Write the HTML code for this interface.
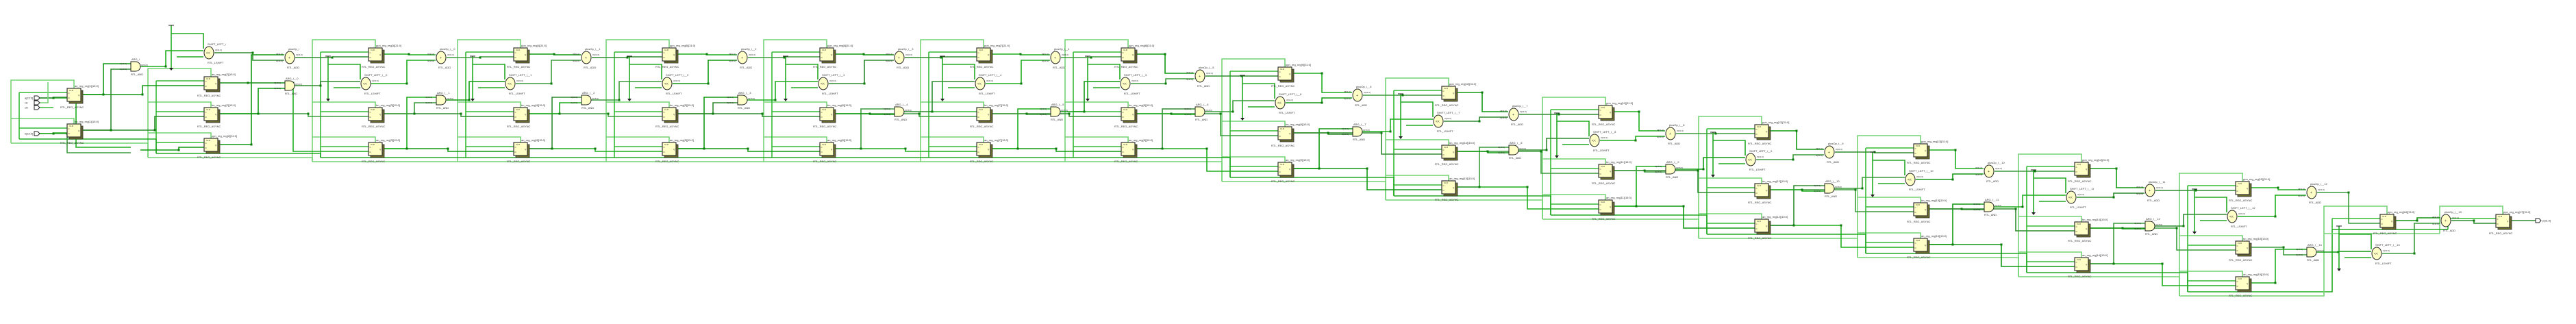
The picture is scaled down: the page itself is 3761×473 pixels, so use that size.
<!DOCTYPE html>
<html><head><meta charset="utf-8">
<style>
html,body{margin:0;padding:0;background:#fff;width:3761px;height:473px;overflow:hidden}
svg text{font-family:"Liberation Sans",sans-serif;fill:#333}
</style></head>
<body>
<svg id="s" xmlns="http://www.w3.org/2000/svg" width="3761" height="473" viewBox="0 0 3761 473">
<g id="w" fill="none" stroke-width="1.6"></g>
<g id="n"></g>
</svg>
<script>
const W=document.getElementById('w'),N=document.getElementById('n'),NS='http://www.w3.org/2000/svg';
function el(p,t,a,txt){const e=document.createElementNS(NS,t);for(const k in a)e.setAttribute(k,a[k]);if(txt)e.textContent=txt;p.appendChild(e);return e;}
const G=['#119911','#2e8b2e','#1fae1f','#3c9c3c'];const B='#74d474';let ci=0;
function wire(pts,c){let d='M'+pts[0][0]+' '+pts[0][1];for(let i=1;i<pts.length;i++)d+=' L'+pts[i][0]+' '+pts[i][1];el(W,'path',{d:d,stroke:c||G[(ci++)%4]});}
function route(x1,y1,x2,y2,f,c){const mx=Math.round(x1+(x2-x1)*f);wire([[x1,y1],[mx,y1],[mx,y2],[x2,y2]],c);el(W,'rect',{x:mx-1.5,y:y1-1.5,width:3,height:3,fill:'#0a7a0a',stroke:'none'});}
function txt(x,y,s,sz){el(N,'text',{x:x,y:y,'font-size':sz||4.5},s);}
const cols=[
{x:98,r:{an:129,bn:181}},
{x:298,r:{an:112,bn:157,ppn:202}},
{x:538,r:{ppn:70,bn:157,an:208}},
{x:750,r:{ppn:70,bn:157,an:208}},
{x:967,r:{ppn:70,bn:157,an:208}},
{x:1197,r:{ppn:70,bn:157,an:208}},
{x:1426,r:{ppn:70,bn:157,an:208}},
{x:1637,r:{ppn:70,bn:157,an:208}},
{x:1866,r:{ppn:98,bn:185,an:237}},
{x:2105,r:{ppn:126,bn:212,an:264}},
{x:2334,r:{ppn:154,bn:240,an:292}},
{x:2562,r:{ppn:182,bn:268,an:320}},
{x:2794,r:{ppn:210,bn:296,an:348}},
{x:3029,r:{ppn:237,bn:324,an:376}},
{x:3264,r:{ppn:265,bn:352,an:404}},
{x:3475,r:{ppn:313}},
{x:3644,r:{ppn:313}}];
const ANDs=[[198,97],[423,125],[644,146],[856,146],[1084,146],[1313,163],[1541,163],[1752,163],[1982,192],[2210,219],[2439,247],[2671,275],[2904,302],[3139,330],[3375,368]];
const LSH=[[305,77],[534,122],[745,122],[974,122],[1202,122],[1431,122],[1643,122],[1869,150],[2100,177],[2328,205],[2556,233],[2789,262],[3024,288],[3259,316],[3470,370]];
const ADDs=[[423,84],[644,84],[856,84],[1084,84],[1313,84],[1541,84],[1752,111],[1982,139],[2210,167],[2439,195],[2671,222],[2904,250],[3139,278],[3375,281],[3571,322]];
const Q=(c,y)=>[c.x+20,y+9],D=(c,y)=>[c.x,y+13];
function prevCol(x){let b=null;for(const c of cols)if(c.x<x)b=c;return b;}
function nextCol(x){for(const c of cols)if(c.x>x)return c;}
function nextOf(arr,x){for(const g of arr)if(g[0]>x)return g;}
// clk / rst loops
cols.forEach((c,i)=>{const ys=Object.values(c.r);const mn=Math.min(...ys),mx=Math.max(...ys);
 const rx=c.x-82,kx=c.x-70;
 wire([[rx,mx+28],[rx,mn-12],[c.x+10,mn-12],[c.x+10,mn]],B);
 ys.forEach(y=>{if(y!==mn)wire([[rx,y-8],[c.x+10,y-8],[c.x+10,y]],B);});
 wire([[kx,mn+6],[kx,mx+22]],'#33bb33');
 ys.forEach(y=>wire([[kx,y+6],[c.x,y+6]],'#33bb33'));
 if(i>0){const p=cols[i-1];const pys=Object.values(p.r);const pm=Math.max(...pys);
  wire([[p.x-70,pm+22],[kx,pm+22],[kx,mx+22]],'#22aa22');
  wire([[p.x-82,pm+28],[rx,pm+28],[rx,mx+28]],B);}
});
// reg-to-reg an/bn
cols.forEach((c,i)=>{const n=cols[i+1];if(!n)return;['an','bn'].forEach((k,j)=>{if(c.r[k]!==undefined&&n.r[k]!==undefined){const q=Q(c,c.r[k]),d=D(n,n.r[k]);route(q[0],q[1],d[0],d[1],0.5+j*0.1);}});});
// ANDs
ANDs.forEach(a=>{const c=prevCol(a[0]);if(c.r.an!==undefined){const q=Q(c,c.r.an);route(q[0],q[1],a[0]-7,a[1]-4,0.45);}
 if(c.r.bn!==undefined){const q=Q(c,c.r.bn);route(q[0],q[1],a[0]-7,a[1]+4,0.6);}
 const l=nextOf(LSH,a[0]);route(a[0]+7,a[1],l[0]-8,l[1]-3,0.4);});
// LSHIFT -> ADD, consts
LSH.forEach(l=>{const a=nextOf(ADDs,l[0]);route(l[0]+8,l[1],a[0]-8,a[1]+4,0.55);
 const gx=l[0]-55;wire([[gx,l[1]-40],[gx,l[1]+22]],'#22aa22');wire([[gx,l[1]-28],[l[0]-8,l[1]-28],[l[0]-8,l[1]-6]],'#22aa22');wire([[gx+8,l[1]+6],[l[0]-8,l[1]+6]],'#22aa22');
 el(N,'path',{d:`M${gx-4} ${l[1]-40}H${gx+4}`,stroke:'#222','stroke-width':1});
 el(N,'path',{d:`M${gx-3} ${l[1]+22}H${gx+3}L${gx} ${l[1]+26}Z`,fill:'#222'});});
// ADD inputs/outputs
ADDs.forEach(a=>{const c=prevCol(a[0]);if(c.r.ppn!==undefined){const q=Q(c,c.r.ppn);route(q[0],q[1],a[0]-8,a[1]-4,0.5);}
 const n=nextCol(a[0]);const d=D(n,n.r.ppn);route(a[0]+8,a[1],d[0],d[1],0.5);});
// first-stage ppn AND
route(58,143,191,215,0.4);route(58,195,191,223,0.3);route(205,219,298,215,0.6);
// inputs
[['a[15:0]',143],['rst',150],['clk',157],['b[15:0]',195]].forEach((p,i)=>{
 el(N,'path',{d:`M50 ${p[1]-3}H55L58 ${p[1]}L55 ${p[1]+3}H50Z`,fill:'#fff',stroke:'#222','stroke-width':1});
 txt(36,p[1]+1.5,p[0],4);});
route(58,143,98,142,0.5);route(58,195,98,194,0.5);
wire([[58,150],[70,150],[70,120]],B);wire([[58,157],[78,157]],'#33bb33');
// output
const lc=cols[cols.length-1];wire([[lc.x+20,322],[3702,322]],'#2e8b2e');
el(N,'path',{d:`M3702 319H3707L3710 322L3707 325H3702Z`,fill:'#fff',stroke:'#222','stroke-width':1});txt(3712,323.5,'p[31:0]',4);
// draw regs
cols.forEach((c,i)=>{for(const k in c.r){const y=c.r[k];
 el(N,'rect',{x:c.x+3,y:y+3,width:20,height:19,fill:'#6b6b2e',stroke:'#333','stroke-width':0.8});
 el(N,'rect',{x:c.x,y:y,width:20,height:19,fill:'#ffffc6',stroke:'#333','stroke-width':1.2});
 txt(c.x+3,y+4,'CLR',3);txt(c.x+1.5,y+8,'C',3);txt(c.x+1.5,y+15,'D',3);txt(c.x+16,y+11,'Q',3);
 txt(c.x+11,y-2,k+'_reg_reg['+(i+1)+']['+(k==='ppn'?'31':'15')+':0]',4);
 txt(c.x-10,y+29,'RTL_REG_ASYNC',4);}});
// gates
ANDs.forEach((a,i)=>{const x=a[0]-7,y=a[1]-7;el(N,'path',{d:`M${x} ${y}H${x+7}A7 7 0 0 1 ${x+7} ${y+14}H${x}Z`,fill:'#ffffc6',stroke:'#222','stroke-width':1});
 txt(x+1,y-2,'ARG_i'+(i?'__'+(i-1):''),4);txt(x,y+20,'RTL_AND',4);txt(x-16,y+4,'I0[15:0]',3);txt(x-16,y+12,'I1[15:0]',3);txt(x+15,y+6,'O[15:0]',3);});
LSH.forEach((l,i)=>{el(N,'ellipse',{cx:l[0],cy:l[1],rx:7,ry:9,fill:'#ffffc6',stroke:'#222','stroke-width':1});txt(l[0]-4,l[1]+2,'<<',5);
 txt(l[0]-2,l[1]-11,'SHIFT_LEFT_i'+(i?'__'+(i-1):''),4);txt(l[0]-2,l[1]+16,'RTL_LSHIFT',4);txt(l[0]+9,l[1]-3,'O[31:0]',3);});
ADDs.forEach((a,i)=>{el(N,'ellipse',{cx:a[0],cy:a[1],rx:7,ry:9,fill:'#ffffc6',stroke:'#222','stroke-width':1});txt(a[0]-2,a[1]+2,'+',5);
 txt(a[0]-2,a[1]-11,'plusOp_i'+(i?'__'+(i-1):''),4);txt(a[0]-4,a[1]+16,'RTL_ADD',4);txt(a[0]-20,a[1]-4,'I0[31:0]',3);txt(a[0]-20,a[1]+6,'I1[31:0]',3);txt(a[0]+9,a[1]-3,'O[31:0]',3);});
</script>
</body></html>
